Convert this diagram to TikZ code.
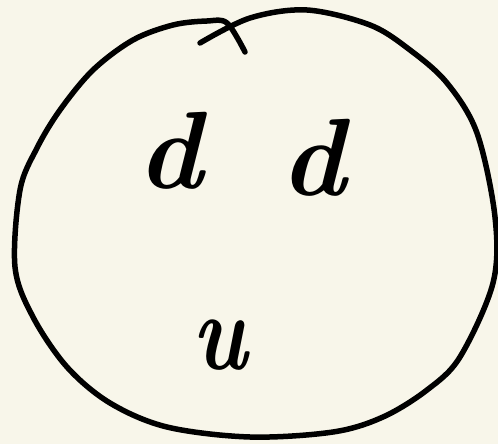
\documentclass[tikz,border=0pt]{standalone}
\definecolor{bg}{RGB}{248,246,234}
\tikzset{stroke/.style={line width=5.5pt,line cap=round,line join=round},
letter/.style={font=\fontsize{110}{110}\selectfont\bfseries\itshape,inner sep=0pt}}
\begin{document}
\begin{tikzpicture}[x=1pt,y=-1pt]
\fill[bg] (0,0) rectangle (498,444);
\useasboundingbox (0,0) rectangle (498,444);
\draw[stroke] plot[smooth,tension=0.55] coordinates {(200,43) (250,18) (307,10) (370,25) (410,50) (447,83) (477,133) (495,217) (493,283) (460,357) (427,390) (383,417) (333,432) (250,437) (167,427) (110,403) (67,367) (33,317) (15,267) (20,190) (37,148) (60,110) (93,70) (133,40) (173,25) (207,21) (227,23) (245,52)};
\node[letter] (d1) at (170,151) {d};
\node[letter] (d2) at (313,158) {d};
\node[letter,xscale=0.8] (u) at (220,345) {u};
\end{tikzpicture}
\end{document}
